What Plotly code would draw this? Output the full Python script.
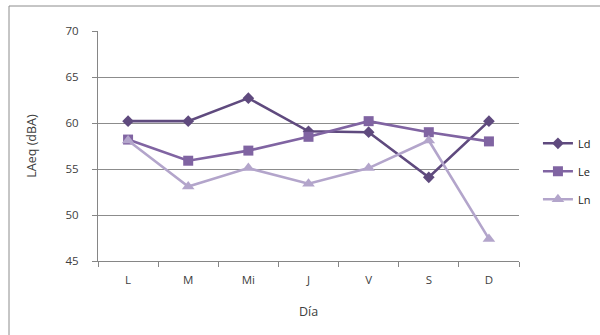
import plotly.graph_objects as go

dias = ["L", "M", "Mi", "J", "V", "S", "D"]
ld = [60.2, 60.2, 62.7, 59.1, 59.0, 54.1, 60.2]
le = [58.2, 55.9, 57.0, 58.5, 60.2, 59.0, 58.0]
ln = [58.1, 53.1, 55.1, 53.4, 55.1, 58.1, 47.4]

y_ticks = [45, 50, 55, 60, 65, 70]

series = [
    ("Ld", ld, "#5F4A7E", "diamond", 9),
    ("Le", le, "#8064A2", "square", 10),
    ("Ln", ln, "#B3A5CB", "triangle-up", 11),
]

fig = go.Figure()
for i, (name, vals, color, sym, size) in enumerate(series):
    fig.add_trace(go.Scatter(
        x=dias, y=vals, name=name, mode="lines+markers",
        line=dict(color=color, width=2.6),
        marker=dict(symbol=sym, size=size, color=color),
        legendgroup=name,
    ))

font_family = "Open Sans, Noto Sans, sans-serif"

fig.update_layout(
    width=600, height=335,
    margin=dict(l=98, r=81, t=31, b=74, autoexpand=False),
    paper_bgcolor="white", plot_bgcolor="white",
    font=dict(family=font_family, size=11.5, color="#404040"),
    showlegend=True,
    legend=dict(x=1.045, y=0.39, xanchor="left", yanchor="middle",
                tracegroupgap=9, font=dict(size=11, color="#202020"),
                itemwidth=30),
    xaxis=dict(
        type="category", range=[-0.5, 6.5], tickson="boundaries",
        ticks="outside", ticklen=5, tickcolor="#868686",
        ticklabelstandoff=8,
        showline=True, linecolor="#868686", linewidth=1,
        showgrid=False, zeroline=False,
        title=dict(text="Día", font=dict(size=12.5, color="#404040"), standoff=21),
    ),
    yaxis=dict(
        range=[45, 70], tickvals=y_ticks, ticks="outside", ticklen=5,
        tickcolor="#868686", ticklabelstandoff=11,
        showline=True, linecolor="#868686", linewidth=1,
        showgrid=True, gridcolor="#8C8C8C", gridwidth=1, zeroline=False,
        title=dict(text="LAeq (dBA)", font=dict(size=12.5, color="#404040"), standoff=26),
    ),
)

# chart frame
fig.add_shape(type="rect", xref="paper", yref="paper",
              x0=(9 - 98) / 421, x1=1.6, y0=-0.6, y1=(261 - 6) / 230,
              line=dict(color="#8C8C8C", width=1), fillcolor="rgba(0,0,0,0)",
              layer="below")

fig.write_html("out.html")
